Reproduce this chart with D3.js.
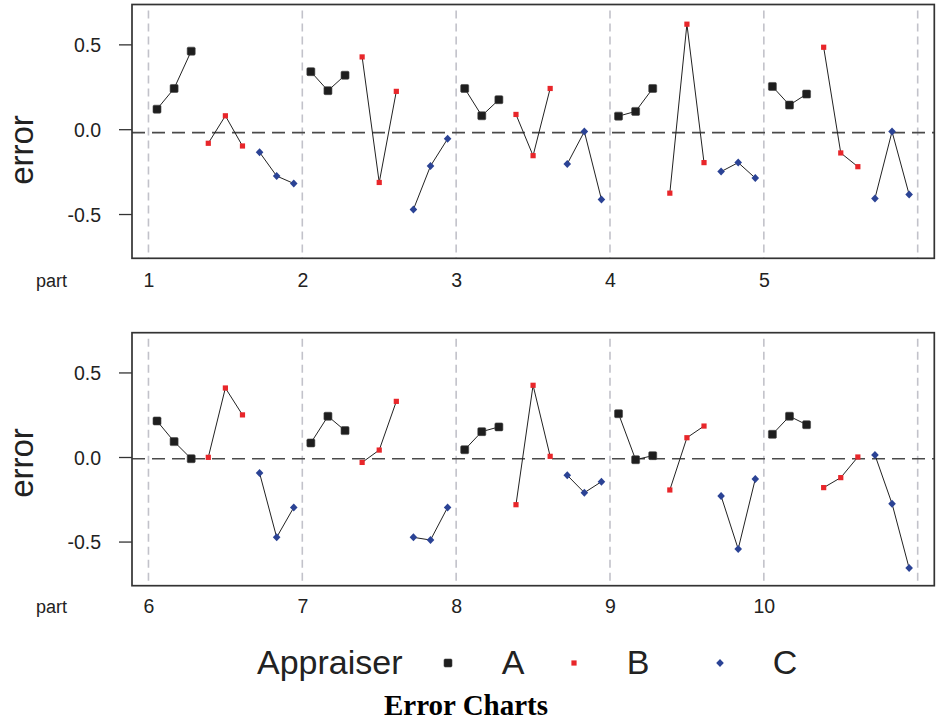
<!DOCTYPE html>
<html>
<head>
<meta charset="utf-8">
<script src="https://cdn.jsdelivr.net/npm/d3@7/dist/d3.min.js"></script>
<style>
  html, body { margin: 0; padding: 0; background: #fff; }
  svg { display: block; }
</style>
</head>
<body>
<svg id="chart" width="939" height="725"></svg>
<script>
// Parts measured and the appraisers who measured them (3 trials each)
const parts = [1, 2, 3, 4, 5, 6, 7, 8, 9, 10];
const appraisers = ["A", "B", "C"];
const trials = 3;

// Measurement error per trial, listed part by part (3 values per part)
const errA = [
  0.118, 0.240, 0.460,
  0.339, 0.227, 0.318,
  0.240, 0.079, 0.174,
  0.077, 0.105, 0.240,
  0.252, 0.142, 0.207,
  0.213, 0.091, -0.010,
  0.083, 0.241, 0.156,
  0.043, 0.150, 0.178,
  0.256, -0.016, 0.008,
  0.134, 0.241, 0.191
];
const errB = [
  -0.083, 0.079, -0.099,
  0.426, -0.314, 0.223,
  0.087, -0.156, 0.240,
  -0.377, 0.619, -0.197,
  0.483, -0.140, -0.221,
  -0.002, 0.408, 0.249,
  -0.032, 0.041, 0.329,
  -0.282, 0.424, 0.004,
  -0.195, 0.114, 0.183,
  -0.181, -0.122, 0.000
];
const errC = [
  -0.136, -0.276, -0.320,
  -0.473, -0.217, -0.057,
  -0.205, -0.014, -0.414,
  -0.250, -0.197, -0.288,
  -0.408, -0.014, -0.385,
  -0.095, -0.475, -0.298,
  -0.475, -0.491, -0.298,
  -0.108, -0.211, -0.146,
  -0.231, -0.544, -0.130,
  0.012, -0.276, -0.657
];
const errorsByAppraiser = [errA, errB, errC];

// Reference level drawn as the dashed horizontal line in each panel
const refLevels = [-0.02, -0.01];
const yTicks = [-0.5, 0.0, 0.5];
const yTickLabels = ["-0.5", "0.0", "0.5"];
const panelParts = [[1, 2, 3, 4, 5], [6, 7, 8, 9, 10]];

const colors = { A: "#1e1e1e", B: "#e8262a", C: "#2b4395" };

const svg = d3.select("#chart");
const font = "Arial, 'Liberation Sans', Helvetica, sans-serif";

const panels = [
  { top: 4.5, bottom: 258.3, labelY: 287, errorY: 150 },
  { top: 332.7, bottom: 585.7, labelY: 613, errorY: 463 }
];
const left = 132, right = 934.3;

function drawMarker(g, who, x, y) {
  if (who === "A") {
    g.append("rect").attr("x", x - 4).attr("y", y - 4)
      .attr("width", 8).attr("height", 8).attr("rx", 1.2)
      .attr("fill", colors.A).attr("stroke", "#444").attr("stroke-width", 0.6);
  } else if (who === "B") {
    g.append("rect").attr("x", x - 2.6).attr("y", y - 2.6)
      .attr("width", 5.2).attr("height", 5.2)
      .attr("fill", colors.B);
  } else {
    g.append("path")
      .attr("d", `M${x},${y - 4}L${x + 3.8},${y}L${x},${y + 4}L${x - 3.8},${y}Z`)
      .attr("fill", colors.C);
  }
}

panels.forEach((p, pi) => {
  const ps = panelParts[pi];
  const x0 = ps[0];
  const x = d3.scaleLinear().domain([x0 - 0.107, x0 + 5.108]).range([left, right]);
  const y = d3.scaleLinear().domain([-0.761, 0.735]).range([p.bottom, p.top]);
  const g = svg.append("g");

  // vertical part separators
  d3.range(x0, x0 + 6).forEach(v => {
    g.append("line")
      .attr("x1", x(v)).attr("x2", x(v))
      .attr("y1", p.top + 1).attr("y2", p.bottom)
      .attr("stroke", "#c2c2ca").attr("stroke-width", 1.6)
      .attr("stroke-dasharray", "8,5").attr("stroke-dashoffset", -5);
  });

  // dashed reference line
  g.append("line")
    .attr("x1", left).attr("x2", right)
    .attr("y1", y(refLevels[pi])).attr("y2", y(refLevels[pi]))
    .attr("stroke", "#4a4a4a").attr("stroke-width", 1.6)
    .attr("stroke-dasharray", "13,7");

  // y axis with ticks
  const yAxis = d3.axisLeft(y).tickValues(yTicks)
    .tickFormat((d, i) => yTickLabels[i]).tickSize(13).tickPadding(18);
  const ya = g.append("g").attr("transform", `translate(${left},0)`).call(yAxis);
  ya.select(".domain").remove();
  ya.selectAll(".tick line").attr("stroke", "#333").attr("stroke-width", 1.3);
  ya.selectAll(".tick text").attr("font-family", font).attr("font-size", 19.5)
    .attr("fill", "#222").attr("dy", "0.36em");

  // x axis labels (no tick marks)
  const xAxis = d3.axisBottom(x).tickValues(ps).tickFormat(d3.format("d")).tickSize(0).tickPadding(0);
  const xa = g.append("g").attr("transform", `translate(0,${p.labelY})`).call(xAxis);
  xa.select(".domain").remove();
  xa.selectAll(".tick text").attr("font-family", font).attr("font-size", 19.5)
    .attr("fill", "#222").attr("dy", 0).attr("y", 0);

  g.append("text").attr("x", 36).attr("y", p.labelY)
    .attr("font-family", font).attr("font-size", 18).attr("fill", "#222")
    .text("part");

  g.append("text")
    .attr("transform", `translate(33,${p.errorY}) rotate(-90)`)
    .attr("text-anchor", "middle")
    .attr("font-family", font).attr("font-size", 33).attr("fill", "#222")
    .text("error");

  // error series: one short line per appraiser per part
  const line = d3.line().x(d => x(d.pos)).y(d => y(d.err));
  ps.forEach(part => {
    const pIdx = parts.indexOf(part);
    appraisers.forEach((who, ai) => {
      const pts = d3.range(trials).map(t => ({
        pos: part + (ai * trials + t + 0.5) / (appraisers.length * trials),
        err: errorsByAppraiser[ai][pIdx * trials + t]
      }));
      g.append("path").datum(pts).attr("d", line)
        .attr("fill", "none").attr("stroke", "#222").attr("stroke-width", 1);
      pts.forEach(d => drawMarker(g, who, x(d.pos), y(d.err)));
    });
  });

  // panel frame
  g.append("rect")
    .attr("x", left).attr("y", p.top)
    .attr("width", right - left).attr("height", p.bottom - p.top)
    .attr("fill", "none").attr("stroke", "#333").attr("stroke-width", 1.7);
});

// legend
const lg = svg.append("g");
lg.append("text").attr("x", 257).attr("y", 674)
  .attr("font-family", font).attr("font-size", 34).attr("fill", "#222")
  .text("Appraiser");
const legendMarkX = [448, 574, 720];
const legendTextX = [513, 638, 785];
appraisers.forEach((who, i) => {
  drawMarker(lg, who, legendMarkX[i], 663);
  lg.append("text").attr("x", legendTextX[i]).attr("y", 674)
    .attr("text-anchor", "middle")
    .attr("font-family", font).attr("font-size", 34).attr("fill", "#222")
    .text(who);
});

// caption
svg.append("text").attr("x", 466).attr("y", 715)
  .attr("text-anchor", "middle")
  .attr("font-family", "'Liberation Serif', 'Times New Roman', serif")
  .attr("font-weight", "bold").attr("font-size", 29).attr("fill", "#000")
  .text("Error Charts");
</script>
</body>
</html>
